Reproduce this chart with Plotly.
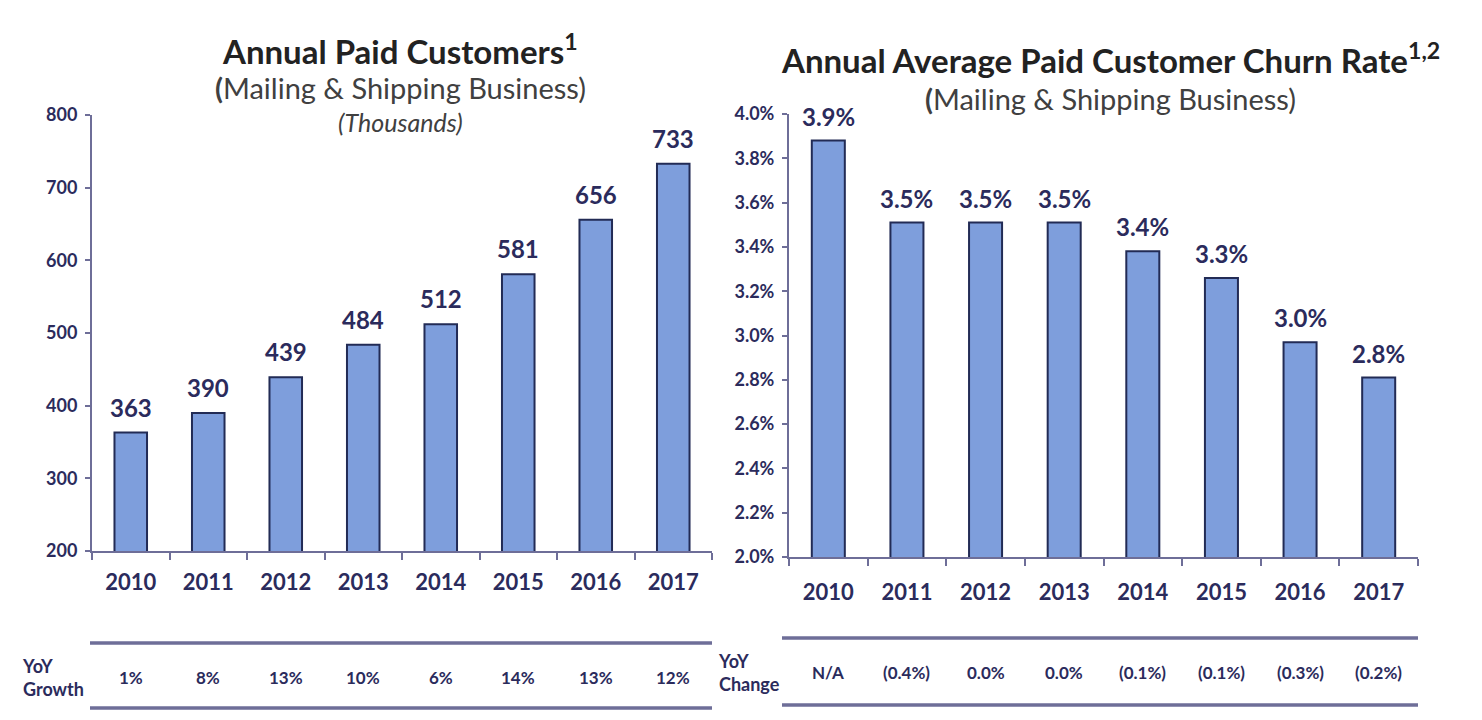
import plotly.graph_objects as go

# ---- data ----
years = ["2010", "2011", "2012", "2013", "2014", "2015", "2016", "2017"]

paid_customers = [363, 390, 439, 484, 512, 581, 656, 733]   # thousands
yoy_growth = ["1%", "8%", "13%", "10%", "6%", "14%", "13%", "12%"]

churn_rate = [3.88, 3.51, 3.51, 3.51, 3.38, 3.26, 2.97, 2.81]  # percent
yoy_change = ["N/A", "(0.4%)", "0.0%", "0.0%", "(0.1%)", "(0.1%)", "(0.3%)", "(0.2%)"]

# the page body has an 8px margin, so the figure is a bit smaller than the window
OFF = 8
W, H = 1482 - OFF, 720 - OFF
FONT = "Lato"
NAVY = "#2B2B5C"
AXIS = "#6E6E98"
BAR = "#7E9EDC"
BAR_EDGE = "#222B55"


def px_x(p):
    return (p - OFF) / W


def px_y(p):
    return 1 - (p - OFF) / H


fig = go.Figure()

for xa, ya, vals in (("x", "y", paid_customers), ("x2", "y2", churn_rate)):
    fig.add_trace(go.Bar(
        x=years, y=vals, xaxis=xa, yaxis=ya,
        marker=dict(color=BAR, line=dict(color=BAR_EDGE, width=2)),
        showlegend=False, hoverinfo="x+y",
    ))

xcommon = dict(
    type="category", categoryorder="array", categoryarray=years,
    range=[-0.5, len(years) - 0.5], automargin=False,
    showline=True, linecolor=AXIS, linewidth=2,
    ticks="outside", tickson="boundaries", ticklen=7, tickcolor=AXIS, tickwidth=2,
    tickfont=dict(family=FONT, size=22, color=NAVY), showgrid=False, tickangle=0,
)
ycommon = dict(
    showline=True, linecolor=AXIS, linewidth=2, automargin=False,
    ticks="outside", ticklen=5, tickcolor=AXIS, tickwidth=2,
    tickfont=dict(family=FONT, size=18, color=NAVY), showgrid=False, zeroline=False,
    ticklabelstandoff=4,
)

fig.update_layout(
    width=W, height=H, autosize=False,
    margin=dict(l=0, r=0, t=0, b=0, pad=0),
    paper_bgcolor="white", plot_bgcolor="white",
    bargap=0.58,
    font=dict(family=FONT),
    xaxis=dict(domain=[px_x(92), px_x(712)], anchor="y", ticklabelstandoff=11, **xcommon),
    yaxis=dict(domain=[px_y(551), px_y(115)], anchor="x", range=[200, 800],
               dtick=100, tickformat="d", **ycommon),
    xaxis2=dict(domain=[px_x(789), px_x(1418)], anchor="y2", ticklabelstandoff=15, **xcommon),
    yaxis2=dict(domain=[px_y(557), px_y(114)], anchor="x2", range=[2.0, 4.0],
                dtick=0.2, tickformat=".1f", ticksuffix="%", **ycommon),
)

# bold tick labels
fig.update_xaxes(tickprefix="<b>", ticksuffix="</b>")
fig.update_yaxes(tickprefix="<b>")

# ---- value labels above bars (category axes take the serial index) ----
for i, v in enumerate(paid_customers):
    fig.add_annotation(x=i, y=v, xref="x", yref="y", text="<b>%d</b>" % v,
                       showarrow=False, yanchor="bottom", yshift=9,
                       font=dict(family=FONT, size=24, color=NAVY))
for i, v in enumerate(churn_rate):
    fig.add_annotation(x=i, y=v, xref="x2", yref="y2", text="<b>%.1f%%</b>" % v,
                       showarrow=False, yanchor="bottom", yshift=8,
                       font=dict(family=FONT, size=24, color=NAVY))

# ---- titles ----
titles = [
    (400, 49, "<b>Annual Paid Customers<sup>1</sup></b>", 33, "#222222"),
    (400, 87, "<b>(</b>Mailing & Shipping Business)", 29, "#404040"),
    (400, 122, "<i>(Thousands)</i>", 25, "#404040"),
    (1110, 58, "<b>Annual Average Paid Customer Churn Rate<sup>1,2</sup></b>", 33, "#222222"),
    (1110, 98, "<b>(</b>Mailing & Shipping Business)", 29, "#404040"),
]
for x, y, txt, size, col in titles:
    fig.add_annotation(x=px_x(x), y=px_y(y), xref="paper", yref="paper",
                       text=txt, showarrow=False, xanchor="center", yanchor="middle",
                       font=dict(family=FONT, size=size, color=col))


# ---- YoY tables ----
def add_table(xref, values, label, x0, x1, ytop, ybot, ylab, lab_x):
    for yy in (ytop, ybot):
        fig.add_shape(type="line", xref="paper", yref="paper",
                      x0=px_x(x0), x1=px_x(x1), y0=px_y(yy), y1=px_y(yy),
                      line=dict(color=AXIS, width=3.5))
    for i, v in enumerate(values):
        fig.add_annotation(x=i, xref=xref, y=px_y(ylab), yref="paper",
                           text="<b>%s</b>" % v, showarrow=False,
                           xanchor="center", yanchor="middle",
                           font=dict(family=FONT, size=17, color=NAVY))
    fig.add_annotation(x=px_x(lab_x), xref="paper", y=px_y(ylab), yref="paper",
                       text="<b>%s</b>" % label, showarrow=False, xanchor="left",
                       yanchor="middle", align="left",
                       font=dict(family=FONT, size=18, color=NAVY))


add_table("x", yoy_growth, "YoY<br>Growth", 90, 712, 643, 708, 677, 20)
add_table("x2", yoy_change, "YoY<br>Change", 782, 1418, 638, 705, 672, 716)

fig.write_html("out.html")
